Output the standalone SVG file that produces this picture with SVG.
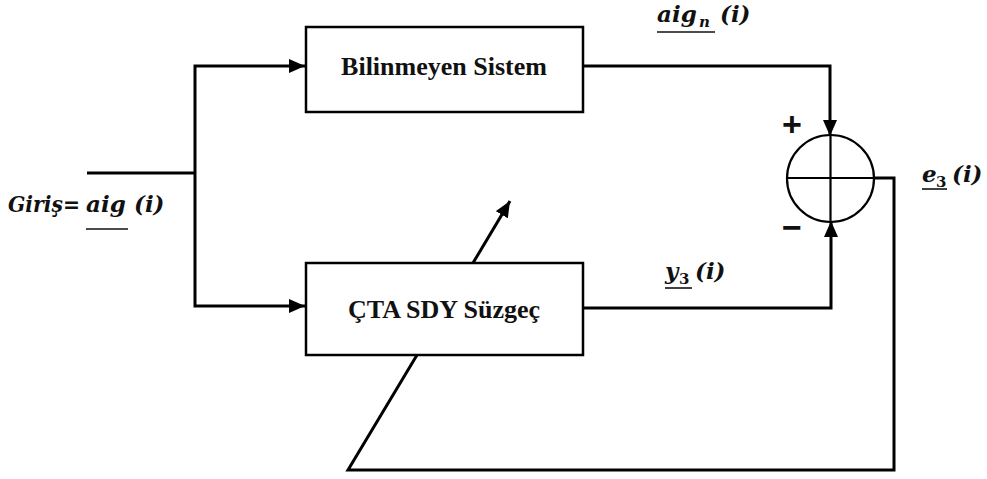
<svg xmlns="http://www.w3.org/2000/svg" width="987" height="479" viewBox="0 0 987 479">
  <style>
    .wire { fill: none; stroke: #000; stroke-width: 3; }
    .box { fill: #fff; stroke: #000; stroke-width: 2.5; }
    .ring { fill: #fff; stroke: #000; stroke-width: 2.2; }
    .cross { stroke: #000; stroke-width: 2.2; }
    .blk { font-family: "Liberation Serif", "Times New Roman", serif; font-weight: bold; font-size: 26px; fill: #111; text-anchor: middle; }
    .sig { font-family: "DejaVu Serif", "Liberation Serif", serif; font-weight: bold; font-style: italic; font-size: 23px; fill: #111; }
    .sub { font-size: 15px; }
    .num { font-style: normal; }
    .ul { stroke: #111; stroke-width: 1.6; }
    .sign { font-family: "Liberation Sans", Arial, sans-serif; font-weight: bold; fill: #111; text-anchor: middle; }
  </style>
  <defs>
    <marker id="arrow" markerUnits="userSpaceOnUse" markerWidth="16" markerHeight="14" refX="16" refY="7" orient="auto">
      <path d="M0,0 L16,7 L0,14 Z" fill="#000"/>
    </marker>
  </defs>

  <rect width="987" height="479" fill="#fff"/>

  <!-- connectors -->
  <g id="connectors">
    <path class="wire" d="M87,173 H195"/>
    <path class="wire" d="M195,173 V66 H305" marker-end="url(#arrow)"/>
    <path class="wire" d="M195,173 V306 H305" marker-end="url(#arrow)"/>
    <path class="wire" d="M583,66 H830 V136" marker-end="url(#arrow)"/>
    <path class="wire" d="M583,308 H831 V221" marker-end="url(#arrow)"/>
    <path class="wire" d="M874,178 H894 V470 H348 L417,355"/>
    <path class="wire" d="M473,263 L510,201" marker-end="url(#arrow)"/>
  </g>

  <!-- unknown system -->
  <g id="unknown-system">
    <rect class="box" x="306" y="27" width="277" height="85"/>
    <text class="blk" x="444" y="75">Bilinmeyen Sistem</text>
  </g>

  <!-- adaptive filter -->
  <g id="adaptive-filter">
    <rect class="box" x="306" y="263" width="277" height="92"/>
    <text class="blk" x="444" y="318">ÇTA SDY Süzgeç</text>
  </g>

  <!-- summing junction -->
  <g id="sum">
    <circle class="ring" cx="830.5" cy="178.5" r="43.5"/>
    <line class="cross" x1="787" y1="178" x2="874" y2="178"/>
    <line class="cross" x1="830.5" y1="135" x2="830.5" y2="222"/>
    <text class="sign" x="792" y="136" font-size="34">+</text>
    <text class="sign" x="792" y="239" font-size="34">−</text>
  </g>

  <!-- signal labels -->
  <g id="label-input">
    <text class="sig" x="8" y="212" textLength="72" lengthAdjust="spacingAndGlyphs">Giriş=</text>
    <text class="sig" x="86" y="212">aig</text>
    <text class="sig" x="134" y="212">(i)</text>
    <line class="ul" x1="86" y1="229" x2="128" y2="229"/>
  </g>
  <g id="label-aign">
    <text class="sig" y="22"><tspan x="657">aig</tspan><tspan class="sub" x="699" dy="5">n</tspan><tspan x="720" dy="-5">(i)</tspan></text>
    <line class="ul" x1="657" y1="32" x2="715" y2="32"/>
  </g>
  <g id="label-y3">
    <text class="sig" y="279"><tspan x="665">y</tspan><tspan class="sub num" x="679" dy="5">3</tspan><tspan x="695" dy="-5">(i)</tspan></text>
    <line class="ul" x1="665" y1="288" x2="692" y2="288"/>
  </g>
  <g id="label-e3">
    <text class="sig" y="182"><tspan x="922">e</tspan><tspan class="sub num" x="936" dy="5">3</tspan><tspan x="952" dy="-5">(i)</tspan></text>
    <line class="ul" x1="922" y1="189" x2="947" y2="189"/>
  </g>
</svg>
